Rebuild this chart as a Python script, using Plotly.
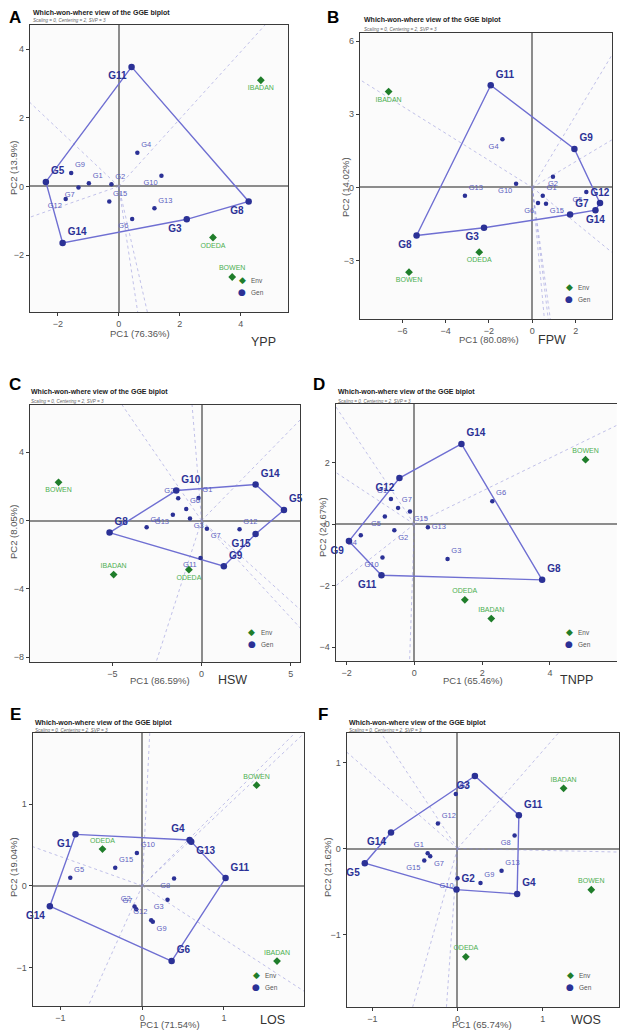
import plotly.graph_objects as go
import numpy as np

# page is rendered with an 8px body margin, so the figure is 8px smaller and all
# positions below are page pixels shifted by that margin
PAGE_OFF = 8
W, H = 631 - PAGE_OFF, 1032 - PAGE_OFF

genotypes = ["G%d" % i for i in range(1, 16)]
environments = ["BOWEN", "IBADAN", "ODEDA"]

# ---- Panel A: YPP ----
ypp_pc1 = [-0.98, -0.24, 2.23, 0.61, -2.39, 0.44, -1.32, 4.26, -1.56, 1.40, 0.42, -1.74, 1.17, -1.84, -0.31]
ypp_pc2 = [0.09, 0.06, -0.96, 0.98, 0.13, -0.95, -0.03, -0.44, 0.39, 0.31, 3.48, -0.37, -0.64, -1.65, -0.44]
ypp_env_pc1 = [3.72, 4.66, 3.09]
ypp_env_pc2 = [-2.64, 3.09, -1.49]
ypp_hull = ["G11", "G8", "G3", "G14", "G5"]

# ---- Panel B: FPW ----
fpw_pc1 = [0.48, 0.95, -2.23, -1.38, 2.49, 0.26, 1.74, -5.34, 1.94, -0.75, -1.92, 3.12, -3.11, 2.91, 0.63]
fpw_pc2 = [-0.34, 0.44, -1.65, 1.98, -0.19, -0.64, -1.11, -1.97, 1.58, 0.15, 4.19, -0.64, -0.34, -0.93, -0.67]
fpw_env_pc1 = [-5.69, -6.63, -2.45]
fpw_env_pc2 = [-3.47, 3.93, -2.65]
fpw_hull = ["G11", "G9", "G12", "G14", "G7", "G3", "G8"]

# ---- Panel C: HSW ----
hsw_pc1 = [-0.17, -1.31, -0.65, -3.08, 4.62, -0.86, 0.30, -5.16, 1.25, -1.42, -0.06, 2.13, -1.61, 3.03, 3.03]
hsw_pc2 = [1.33, 1.31, 0.12, -0.39, 0.62, 0.68, -0.47, -0.70, -2.67, 1.76, -2.19, -0.51, 0.35, 2.11, -0.78]
hsw_env_pc1 = [-8.02, -4.93, -0.71]
hsw_env_pc2 = [2.24, -3.16, -2.87]
hsw_hull = ["G10", "G14", "G5", "G15", "G9", "G8"]

# ---- Panel D: TNPP ----
tnpp_pc1 = [-0.69, -0.59, 0.98, -1.58, -0.87, 2.30, -0.48, 3.77, -1.93, -0.94, -0.97, -0.44, 0.40, 1.39, -0.13]
tnpp_pc2 = [0.82, -0.20, -1.13, -0.36, 0.25, 0.75, 0.53, -1.81, -0.55, -1.08, -1.66, 1.50, -0.10, 2.61, 0.41]
tnpp_env_pc1 = [5.05, 2.27, 1.49]
tnpp_env_pc2 = [2.10, -3.07, -2.46]
tnpp_hull = ["G14", "G8", "G11", "G9", "G12"]

# ---- Panel E: LOS ----
los_pc1 = [-0.816, -0.094, 0.31, 0.58, -0.88, 0.36, -0.073, 0.39, 0.13, -0.065, 1.02, 0.11, 0.60, -1.13, -0.33]
los_pc2 = [0.629, -0.253, -0.17, 0.56, 0.098, -0.92, -0.286, 0.09, -0.44, 0.40, 0.094, -0.42, 0.54, -0.25, 0.22]
los_env_pc1 = [1.40, 1.65, -0.486]
los_env_pc2 = [1.23, -0.92, 0.449]
los_hull = ["G1", "G4", "G13", "G11", "G6", "G14"]

# ---- Panel F: WOS ----
wos_pc1 = [-0.35, -0.012, 0.204, 0.70, -1.088, -0.02, -0.32, 0.67, 0.27, 0.0, 0.72, -0.23, 0.517, -0.78, -0.39]
wos_pc2 = [-0.054, -0.478, 0.843, -0.528, -0.171, 0.633, -0.089, 0.151, -0.40, -0.346, 0.388, 0.29, -0.26, 0.186, -0.14]
wos_env_pc1 = [1.57, 1.245, 0.098]
wos_env_pc2 = [-0.48, 0.70, -1.26]
wos_hull = ["G3", "G11", "G4", "G2", "G5", "G14"]

pc_percent = {"YPP": ("76.36%", "13.9%"), "FPW": ("80.08%", "14.02%"), "HSW": ("86.59%", "8.05%"),
              "TNPP": ("65.46%", "24.67%"), "LOS": ("71.54%", "19.04%"), "WOS": ("65.74%", "21.62%")}

# ---- label placement (style) ----
TR, TL, BR, BL, BC, TC, MR = "top right", "top left", "bottom right", "bottom left", "bottom center", "top center", "middle right"
lab_pos = {
    "YPP": [TR, TR, BL, TR, TR, BL, BL, BL, TR, BL, BL, BL, TR, TR, TR],
    "FPW": [TR, BC, BL, BL, BL, BL, TR, BL, TR, BL, TR, TC, TR, BC, BR],
    "HSW": [TR, TL, BR, TR, TR, TR, BR, TR, TR, TR, BL, TR, BL, TR, BL],
    "TNPP": [TL, BR, TR, BL, BL, TR, TR, TR, BL, BL, BL, BL, MR, TR, BR],
    "LOS": [BL, TL, BL, TL, TR, TR, TL, BL, BR, TR, TR, TL, BR, BL, TR],
    "WOS": [TL, TR, BL, TR, BL, TR, BR, BL, TR, BL, TR, TR, TR, BL, BL],
}
env_pos = {"YPP": [TC, BC, BC], "FPW": [BC, BC, BC], "HSW": [BC, TC, BC],
           "TNPP": [TC, TC, TC], "LOS": [TC, TC, TC], "WOS": [TC, TC, TC]}

panels = [
    dict(trait="YPP", letter="A", g=(ypp_pc1, ypp_pc2), e=(ypp_env_pc1, ypp_env_pc2), hull=ypp_hull,
         box=(30, 288, 25, 312), xr=(-2.91, 5.55), yr=(-3.66, 4.70), dx=2, dy=2,
         letter_xy=(15, 17), title_xy=(31, 12.7, 20.7), xt=(140, 333), yt=(13, 168), trait_xy=(263, 342), leg=(242, 280)),
    dict(trait="FPW", letter="B", g=(fpw_pc1, fpw_pc2), e=(fpw_env_pc1, fpw_env_pc2), hull=fpw_hull,
         box=(360, 611.7, 33, 319), xr=(-7.95, 3.66), yr=(-5.39, 6.33), dx=2, dy=3,
         letter_xy=(333, 17.5), title_xy=(362, 20, 29), xt=(489, 339), yt=(345, 187), trait_xy=(552, 340), leg=(569, 287)),
    dict(trait="HSW", letter="C", g=(hsw_pc1, hsw_pc2), e=(hsw_env_pc1, hsw_env_pc2), hull=hsw_hull,
         box=(30, 300, 405, 661.7), xr=(-9.62, 5.52), yr=(-8.26, 6.77), dx=5, dy=4,
         letter_xy=(15, 384), title_xy=(29, 392.3, 401), xt=(160, 680), yt=(13, 532), trait_xy=(232, 680), leg=(252, 632)),
    dict(trait="TNPP", letter="D", g=(tnpp_pc1, tnpp_pc2), e=(tnpp_env_pc1, tnpp_env_pc2), hull=tnpp_hull,
         box=(335.7, 616.7, 404.3, 660.7), xr=(-2.32, 5.97), yr=(-4.44, 3.90), dx=2, dy=2,
         letter_xy=(319, 384), title_xy=(336, 392.3, 401.3), xt=(473, 680), yt=(322, 527), trait_xy=(576, 680), leg=(569, 632)),
    dict(trait="LOS", letter="E", g=(los_pc1, los_pc2), e=(los_env_pc1, los_env_pc2), hull=los_hull,
         box=(32.7, 304, 733.3, 1006), xr=(-1.34, 1.98), yr=(-1.47, 1.865), dx=1, dy=1,
         letter_xy=(15, 714), title_xy=(33, 722.7, 730), xt=(170, 1024), yt=(13, 867), trait_xy=(272, 1020), leg=(256, 975)),
    dict(trait="WOS", letter="F", g=(wos_pc1, wos_pc2), e=(wos_env_pc1, wos_env_pc2), hull=wos_hull,
         box=(346.7, 619, 733.3, 1006.7), xr=(-1.30, 1.895), yr=(-1.84, 1.34), dx=1, dy=1,
         letter_xy=(323, 714), title_xy=(347, 722.7, 730), xt=(482, 1024), yt=(327, 867), trait_xy=(586, 1020), leg=(570, 975)),
]

GEN_DARK = "#2b3196"
GEN_LABEL = "#5b5fc0"
POLY = "#6f6fd2"
RAY = "rgba(135,135,215,0.5)"
ENV_PT = "#1f7d2a"
ENV_LABEL = "#4caf50"
FONT = "Liberation Sans, Arial, sans-serif"


def px(x):
    return (x - PAGE_OFF) / W


def py(y):
    return 1 - (y - PAGE_OFF) / H


def ann(x, y, text, size, color, xanchor="center", family=FONT, **kw):
    return dict(x=px(x), y=py(y), xref="paper", yref="paper", text=text, showarrow=False,
                xanchor=xanchor, yanchor="middle", font=dict(size=size, color=color, family=family), **kw)


fig = go.Figure()
annotations = []

for i, p in enumerate(panels):
    k = "" if i == 0 else str(i + 1)
    xa, ya = "x" + k, "y" + k
    gx, gy = np.array(p["g"][0]), np.array(p["g"][1])
    ex, ey = p["e"]
    idx = {g: j for j, g in enumerate(genotypes)}
    hv = [idx[g] for g in p["hull"]]

    # rays perpendicular to polygon sides
    rx, ry = [], []
    n = len(hv)
    for a in range(n):
        p1 = np.array([gx[hv[a]], gy[hv[a]]])
        p2 = np.array([gx[hv[(a + 1) % n]], gy[hv[(a + 1) % n]]])
        d = p2 - p1
        t = -np.dot(p1, d) / np.dot(d, d)
        foot = p1 + t * d
        u = foot / np.linalg.norm(foot)
        rx += [0, u[0] * 100, None]
        ry += [0, u[1] * 100, None]
    fig.add_trace(go.Scatter(x=rx, y=ry, mode="lines", xaxis=xa, yaxis=ya, hoverinfo="skip",
                             line=dict(color=RAY, width=1, dash="dot"), showlegend=False))

    # polygon
    px_ = [gx[j] for j in hv] + [gx[hv[0]]]
    py_ = [gy[j] for j in hv] + [gy[hv[0]]]
    fig.add_trace(go.Scatter(x=px_, y=py_, mode="lines", xaxis=xa, yaxis=ya,
                             line=dict(color=POLY, width=1.4), showlegend=False))

    pos = lab_pos[p["trait"]]
    other = [j for j in range(15) if j not in hv]
    fig.add_trace(go.Scatter(x=gx[other], y=gy[other], mode="markers+text", xaxis=xa, yaxis=ya,
                             text=[genotypes[j] for j in other], textposition=[pos[j] for j in other],
                             textfont=dict(size=7.5, color=GEN_LABEL, family=FONT),
                             marker=dict(size=4.5, color=GEN_DARK), showlegend=False))
    fig.add_trace(go.Scatter(x=gx[hv], y=gy[hv], mode="markers+text", xaxis=xa, yaxis=ya,
                             text=[genotypes[j] for j in hv], textposition=[pos[j] for j in hv],
                             textfont=dict(size=10, color=GEN_DARK, family=FONT, weight="bold"),
                             marker=dict(size=6.5, color=GEN_DARK), showlegend=False, cliponaxis=False))
    fig.add_trace(go.Scatter(x=ex, y=ey, mode="markers+text", xaxis=xa, yaxis=ya,
                             text=environments, textposition=env_pos[p["trait"]],
                             textfont=dict(size=7, color=ENV_LABEL, family=FONT),
                             marker=dict(size=6, color=ENV_PT, symbol="diamond"), showlegend=False))

    x0, x1, y0, y1 = p["box"]
    axcommon = dict(showgrid=False, zeroline=True, zerolinecolor="#8c8c8c", zerolinewidth=1.6,
                    showline=True, linecolor="#3a3a3a", linewidth=1.3, ticks="outside", ticklen=3,
                    tickcolor="#3a3a3a", tickfont=dict(size=9, color="#555555", family=FONT))
    fig.update_layout(**{
        "xaxis" + k: dict(domain=[px(x0), min(px(x1), 1)], range=list(p["xr"]), dtick=p["dx"], anchor=ya,
                          mirror=True, **axcommon),
        "yaxis" + k: dict(domain=[py(y1), py(y0)], range=list(p["yr"]), dtick=p["dy"], anchor=xa,
                          mirror=(p["letter"] != "D"), **axcommon),
    })

    # texts
    lx, ly = p["letter_xy"]
    annotations.append(ann(lx, ly, "<b>%s</b>" % p["letter"], 17, "#000"))
    tx, ty, sy = p["title_xy"]
    annotations.append(ann(tx, ty, "<b>Which-won-where view of the GGE biplot</b>", 7, "#222", xanchor="left"))
    annotations.append(ann(tx, sy, "<i>Scaling = 0, Centering = 2, SVP = 3</i>", 4.6, "#666", xanchor="left"))
    pc1, pc2 = pc_percent[p["trait"]]
    annotations.append(ann(p["xt"][0], p["xt"][1], "PC1 (%s)" % pc1, 9.5, "#555"))
    annotations.append(ann(p["yt"][0], p["yt"][1], "PC2 (%s)" % pc2, 9.5, "#555", textangle=-90))
    annotations.append(ann(p["trait_xy"][0], p["trait_xy"][1], p["trait"], 12.5, "#333"))
    # legend
    lgx, lgy = p["leg"]
    annotations.append(ann(lgx, lgy, "◆", 9, ENV_PT, family="DejaVu Sans"))
    annotations.append(ann(lgx, lgy + 12, "●", 9, GEN_DARK, family="DejaVu Sans"))
    annotations.append(ann(lgx + 7, lgy, "Env", 6.5, "#555", xanchor="left"))
    annotations.append(ann(lgx + 7, lgy + 12, "Gen", 6.5, "#555", xanchor="left"))

fig.update_layout(width=W, height=H, margin=dict(l=0, r=0, t=0, b=0), showlegend=False,
                  paper_bgcolor="white", plot_bgcolor="#fbfbfb", annotations=annotations,
                  font=dict(family=FONT))

fig.write_html("out.html")
